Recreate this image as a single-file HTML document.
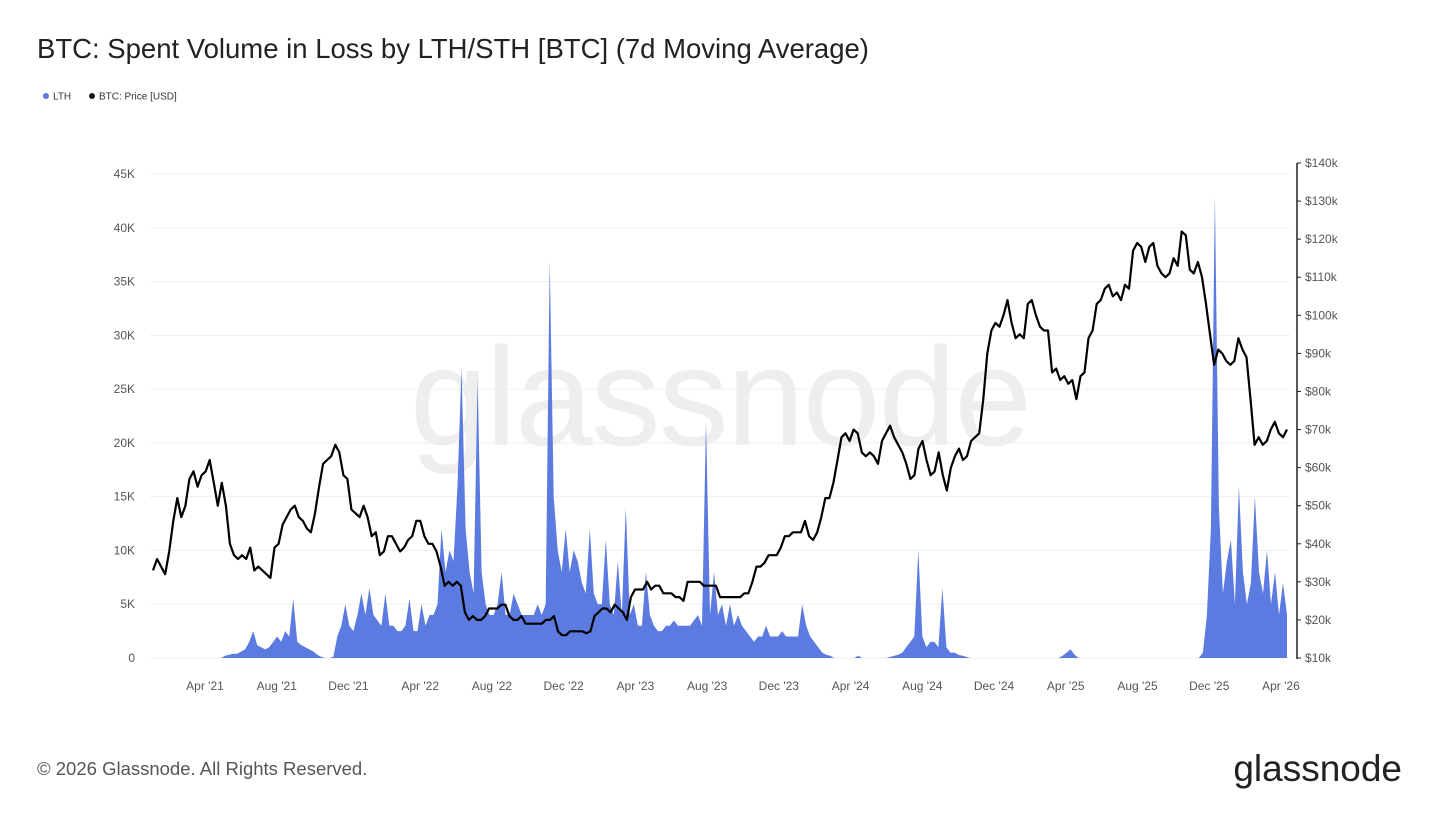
<!DOCTYPE html>
<html><head><meta charset="utf-8">
<style>
body{margin:0;background:#fff;width:1440px;height:810px;overflow:hidden;font-family:"Liberation Sans",sans-serif}
</style></head>
<body>
<svg id="chart" width="1440" height="810" xmlns="http://www.w3.org/2000/svg">
<text x="37" y="58" font-size="27.5" fill="#222">BTC: Spent Volume in Loss by LTH/STH [BTC] (7d Moving Average)</text>
<g>
<circle cx="46" cy="96" r="3" fill="#5b7be0"/>
<text x="53" y="99.5" font-size="10" fill="#333">LTH</text>
<circle cx="92" cy="96" r="3" fill="#111"/>
<text x="99" y="99.5" font-size="10" fill="#333">BTC: Price [USD]</text>
</g>
<text x="720" y="445" font-size="140" fill="#eeeeee" text-anchor="middle" letter-spacing="-2">glassnode</text>
<g id="grid"></g>
<g id="marks"></g>
<g id="axes"></g>
<text x="37" y="775" font-size="18.5" fill="#555">© 2026 Glassnode. All Rights Reserved.</text>
<text x="1402" y="781" font-size="37" fill="#222" text-anchor="end">glassnode</text>
</svg>
<script>
const leftTicks=[0,5,10,15,20,25,30,35,40,45];
const leftTickLabels=["0","5K","10K","15K","20K","25K","30K","35K","40K","45K"];
const rightTicks=[10,20,30,40,50,60,70,80,90,100,110,120,130,140];
const xTickLabels=["Apr '21","Aug '21","Dec '21","Apr '22","Aug '22","Dec '22","Apr '23","Aug '23","Dec '23","Apr '24","Aug '24","Dec '24","Apr '25","Aug '25","Dec '25","Apr '26"];
const price=[33,36,34,32,38,46,52,47,50,57,59,55,58,59,62,56,50,56,50,40,37,36,37,36,39,33,34,33,32,31,39,40,45,47,49,50,47,46,44,43,48,55,61,62,63,66,64,58,57,49,48,47,50,
47,42,43,37,38,42,42,40,38,39,41,42,46,46,42,40,40,38,34,29,30,29,30,29,22,20,21,20,20,21,23,23,23,24,24,21,20,20,21,19,19,19,19,19,20,20,21,17,16,16,17,17,17,17,
16.5,17,21,22,23,23,22,24,23,22,20,26,28,28,28,30,28,29,29,27,27,27,26,26,25,30,30,30,30,29,29,29,29,26,26,26,26,26,26,27,27,30,34,34,35,37,37,37,39,42,42,43,43,
43,46,42,41,43,47,52,52,56,62,68,69,67,70,69,64,63,64,63,61,67,69,71,68,66,64,61,57,58,65,67,62,58,59,64,58,54,60,63,65,62,63,67,68,69,78,90,96,98,97,100,104,98,94,
95,94,103,104,100,97,96,96,85,86,83,84,82,83,78,84,85,94,96,103,104,107,108,105,106,104,108,107,117,119,118,114,118,119,113,111,110,111,115,113,122,121,112,111,114,110,103,95,87,91,90,88,87,
88,94,91,89,78,66,68,66,67,70,72,69,68,70];
const lth=[0,0,0,0,0,0,0,0,0,0,0,0,0,0,0,0,0,0,0.2,0.3,0.4,0.4,0.6,0.8,1.5,2.5,1.2,1.0,0.8,1.0,1.5,2.0,1.5,2.5,2.0,5.5,1.5,1.2,1.0,0.8,0.6,0.3,0.1,0,0,0.1,2,3,5,3,2.5,4,6,
4,6.5,4,3.5,3,6,3,3,2.5,2.5,3,5.5,2.5,2.5,5,3,4,4,5,12,8,10,9,16,27,12,8,6,26,8,5,4,4,5,8,4,4,6,5,4,4,4,4,5,4,5,37,15,10,8,12,8,10,9,
7,6,12,6,5,5,11,5,4,9,4,14,4,5,3,3,8,4,3,2.5,2.5,3,3,3.5,3,3,3,3,3.5,4,3,22,4,8,4,5,3,5,3,4,3,2.5,2,1.5,2,2,3,2,2,2,2.5,2,2,
2,2,5,3,2,1.5,1,0.5,0.3,0.2,0,0,0,0,0,0,0.2,0,0,0,0,0,0,0,0.1,0.2,0.3,0.5,1,1.5,2,10,2,1,1.5,1.5,1,6.5,1,0.5,0.5,0.3,0.2,0.1,0,0,0,0,0,0,0,0,0,0,
0,0,0,0,0,0,0,0,0,0,0,0,0,0.2,0.5,0.8,0.3,0,0,0,0,0,0,0,0,0,0,0,0,0,0,0,0,0,0,0,0,0,0,0,0,0,0,0,0,0,0,0,0.5,4,12,43,14,6,9,11,
5,16,8,5,7,15,8,6,10,5,8,4,7,4];
const NS="http://www.w3.org/2000/svg";
const X0=153,X1=1287,PL=150,PR=1290;
function xi(i,n){return X0+i*(X1-X0)/(n-1);}
function yL(v){return 658-v*(484/45);}
function yR(v){return 658-(v-10)*(495/130);}
function mk(t,a,p){const e=document.createElementNS(NS,t);for(const k in a)e.setAttribute(k,a[k]);(p).appendChild(e);return e;}
const grid=document.getElementById('grid'),marks=document.getElementById('marks'),axes=document.getElementById('axes');
leftTicks.forEach((v,i)=>{
  const l=mk('line',{x1:PL,x2:PR,y1:yL(v),y2:yL(v),stroke:'#efefef','stroke-width':1},grid);
  
  
  const t=mk('text',{x:135,y:yL(v)+4,'font-size':12,fill:'#555','text-anchor':'end'},axes);
  t.textContent=leftTickLabels[i];
  
  
});
rightTicks.forEach(v=>{
  const t=mk('text',{x:1305,y:yR(v)+4,'font-size':12,fill:'#555'},axes);
  t.textContent='$'+v+'k';
  
  
  const k=mk('line',{x1:1297,x2:1301,y1:yR(v),y2:yR(v),stroke:'#222'},axes);
  
  
});
const ax=mk('line',{x1:1297,x2:1297,y1:163,y2:659,stroke:'#222','stroke-width':1.5},axes);


xTickLabels.forEach((s,i)=>{
  const t=mk('text',{x:205+i*71.73,y:690,'font-size':12,fill:'#555','text-anchor':'middle'},axes);
  t.textContent=s;
  
  
});
let d='M'+xi(0,lth.length)+' '+yL(0);
lth.forEach((v,i)=>{d+=' L'+xi(i,lth.length).toFixed(1)+' '+yL(v).toFixed(1);});
d+=' L'+xi(lth.length-1,lth.length)+' '+yL(0)+' Z';
const a=mk('path',{d:d,fill:'#5b7be0'},marks);


let p='';
price.forEach((v,i)=>{p+=(i?' L':'M')+xi(i,price.length).toFixed(1)+' '+yR(v).toFixed(1);});
const pl=mk('path',{d:p,fill:'none',stroke:'#000','stroke-width':2.2,'stroke-linejoin':'round'},marks);


</script>
</body></html>
